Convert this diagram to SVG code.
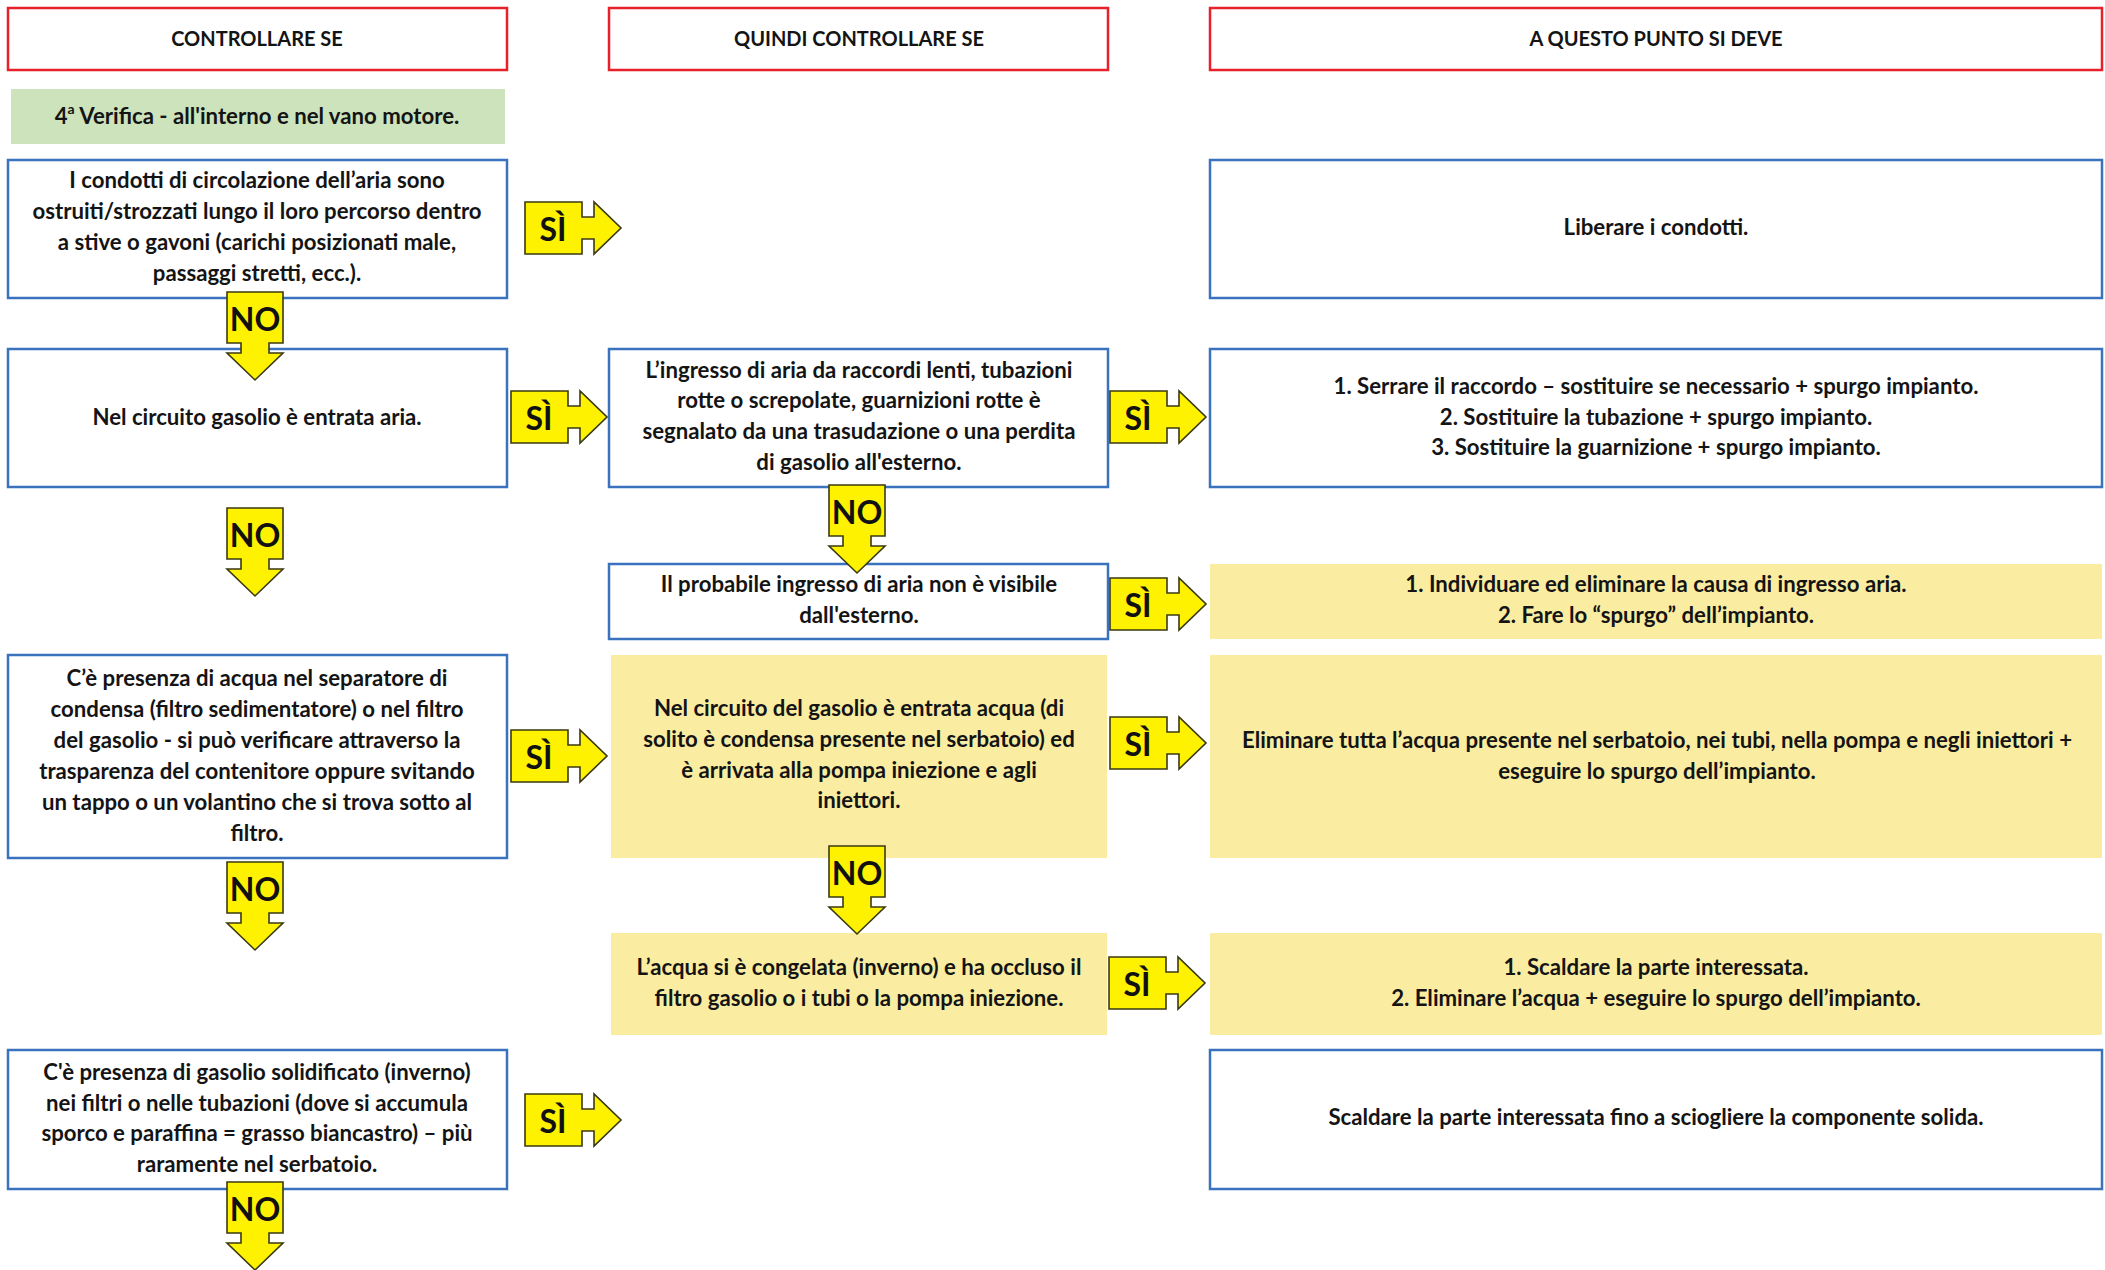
<svg xmlns="http://www.w3.org/2000/svg" width="2105" height="1270" viewBox="0 0 2105 1270">
<defs>
<style>
.hdr{fill:#ffffff;stroke:#E8202A;stroke-width:2.5}
.blue{fill:#ffffff;stroke:#3A72BE;stroke-width:2.5}
.yel{fill:#FAEDA2;stroke:none}
.grn{fill:#CCE3BC;stroke:none}
text{font-family:Lato,"Liberation Sans",sans-serif;font-weight:700;fill:#141414;text-anchor:middle}
.t{font-size:22.2px}
.h{font-size:20px}
.lab{font-size:32px;fill:#111}
.arr{fill:#FFF200;stroke:#3a3a10;stroke-width:1.6;stroke-linejoin:miter}
</style>
<path id="si" d="M0,0 H57 V15 H69 V0 L96,26 L69,52 V37 H57 V52 H0 Z"/>
<path id="no" d="M0,0 H56 V51 H42 V61 H56 L28,88 L0,61 H14 V51 H0 Z"/>
</defs>
<rect width="2105" height="1270" fill="#ffffff"/>

<g id="header1"><rect class="hdr" x="8" y="8" width="499" height="62"/><text class="h" x="257" y="46">CONTROLLARE SE</text></g>
<g id="header2"><rect class="hdr" x="609" y="8" width="499" height="62"/><text class="h" x="859" y="46">QUINDI CONTROLLARE SE</text></g>
<g id="header3"><rect class="hdr" x="1210" y="8" width="892" height="62"/><text class="h" x="1656" y="46">A QUESTO PUNTO SI DEVE</text></g>

<g id="step4"><rect class="grn" x="11" y="89" width="494" height="55"/><text class="t" x="257" y="124">4<tspan font-size="14" dy="-10">a</tspan><tspan dy="10"> Verifica - all'interno e nel vano motore.</tspan></text></g>

<g id="A1"><rect class="blue" x="8" y="160" width="499" height="138"/>
<text class="t" x="257"><tspan x="257" y="188">I condotti di circolazione dell’aria sono</tspan><tspan x="257" y="219">ostruiti/strozzati lungo il loro percorso dentro</tspan><tspan x="257" y="250">a stive o gavoni (carichi posizionati male,</tspan><tspan x="257" y="281">passaggi stretti, ecc.).</tspan></text></g>

<g id="C1"><rect class="blue" x="1210" y="160" width="892" height="138"/><text class="t" x="1656" y="235">Liberare i condotti.</text></g>

<g id="A2"><rect class="blue" x="8" y="349" width="499" height="138"/><text class="t" x="257" y="425">Nel circuito gasolio è entrata aria.</text></g>

<g id="B1"><rect class="blue" x="609" y="349" width="499" height="138"/>
<text class="t"><tspan x="859" y="378">L’ingresso di aria da raccordi lenti, tubazioni</tspan><tspan x="859" y="408">rotte o screpolate, guarnizioni rotte è</tspan><tspan x="859" y="439">segnalato da una trasudazione o una perdita</tspan><tspan x="859" y="470">di gasolio all'esterno.</tspan></text></g>

<g id="C2"><rect class="blue" x="1210" y="349" width="892" height="138"/>
<text class="t"><tspan x="1656" y="394">1. Serrare il raccordo – sostituire se necessario + spurgo impianto.</tspan><tspan x="1656" y="425">2. Sostituire la tubazione + spurgo impianto.</tspan><tspan x="1656" y="455">3. Sostituire la guarnizione + spurgo impianto.</tspan></text></g>

<g id="B2"><rect class="blue" x="609" y="564" width="499" height="75"/>
<text class="t"><tspan x="859" y="592">Il probabile ingresso di aria non è visibile</tspan><tspan x="859" y="623">dall'esterno.</tspan></text></g>

<g id="C3"><rect class="yel" x="1210" y="564" width="892" height="75"/>
<text class="t"><tspan x="1656" y="592">1. Individuare ed eliminare la causa di ingresso aria.</tspan><tspan x="1656" y="623">2. Fare lo “spurgo” dell’impianto.</tspan></text></g>

<g id="A3"><rect class="blue" x="8" y="655" width="499" height="203"/>
<text class="t"><tspan x="257" y="686">C’è presenza di acqua nel separatore di</tspan><tspan x="257" y="717">condensa (filtro sedimentatore) o nel filtro</tspan><tspan x="257" y="748">del gasolio - si può verificare attraverso la</tspan><tspan x="257" y="779">trasparenza del contenitore oppure svitando</tspan><tspan x="257" y="810">un tappo o un volantino che si trova sotto al</tspan><tspan x="257" y="841">filtro.</tspan></text></g>

<g id="B3"><rect class="yel" x="611" y="655" width="496" height="203"/>
<text class="t"><tspan x="859" y="716">Nel circuito del gasolio è entrata acqua (di</tspan><tspan x="859" y="747">solito è condensa presente nel serbatoio) ed</tspan><tspan x="859" y="778">è arrivata alla pompa iniezione e agli</tspan><tspan x="859" y="808">iniettori.</tspan></text></g>

<g id="C4"><rect class="yel" x="1210" y="655" width="892" height="203"/>
<text class="t"><tspan x="1657" y="748">Eliminare tutta l’acqua presente nel serbatoio, nei tubi, nella pompa e negli iniettori +</tspan><tspan x="1657" y="779">eseguire lo spurgo dell’impianto.</tspan></text></g>

<g id="B4"><rect class="yel" x="611" y="933" width="496" height="102"/>
<text class="t"><tspan x="859" y="975">L’acqua si è congelata (inverno) e ha occluso il</tspan><tspan x="859" y="1006">filtro gasolio o i tubi o la pompa iniezione.</tspan></text></g>

<g id="C5"><rect class="yel" x="1210" y="933" width="892" height="102"/>
<text class="t"><tspan x="1656" y="975">1. Scaldare la parte interessata.</tspan><tspan x="1656" y="1006">2. Eliminare l’acqua + eseguire lo spurgo dell’impianto.</tspan></text></g>

<g id="A4"><rect class="blue" x="8" y="1050" width="499" height="139"/>
<text class="t"><tspan x="257" y="1080">C'è presenza di gasolio solidificato (inverno)</tspan><tspan x="257" y="1111">nei filtri o nelle tubazioni (dove si accumula</tspan><tspan x="257" y="1141">sporco e paraffina = grasso biancastro) – più</tspan><tspan x="257" y="1172">raramente nel serbatoio.</tspan></text></g>

<g id="C6"><rect class="blue" x="1210" y="1050" width="892" height="139"/><text class="t" x="1656" y="1125">Scaldare la parte interessata fino a sciogliere la componente solida.</text></g>

<g id="connectors">
<g transform="translate(525,202)"><use href="#si" class="arr"/><text class="lab" x="28" y="39">SÌ</text></g>
<g transform="translate(511,391)"><use href="#si" class="arr"/><text class="lab" x="28" y="39">SÌ</text></g>
<g transform="translate(1110,391)"><use href="#si" class="arr"/><text class="lab" x="28" y="39">SÌ</text></g>
<g transform="translate(1110,578)"><use href="#si" class="arr"/><text class="lab" x="28" y="39">SÌ</text></g>
<g transform="translate(511,730)"><use href="#si" class="arr"/><text class="lab" x="28" y="39">SÌ</text></g>
<g transform="translate(1110,717)"><use href="#si" class="arr"/><text class="lab" x="28" y="39">SÌ</text></g>
<g transform="translate(1109,957)"><use href="#si" class="arr"/><text class="lab" x="28" y="39">SÌ</text></g>
<g transform="translate(525,1094)"><use href="#si" class="arr"/><text class="lab" x="28" y="39">SÌ</text></g>
<g transform="translate(227,292)"><use href="#no" class="arr"/><text class="lab" x="28" y="39">NO</text></g>
<g transform="translate(227,508)"><use href="#no" class="arr"/><text class="lab" x="28" y="39">NO</text></g>
<g transform="translate(227,862)"><use href="#no" class="arr"/><text class="lab" x="28" y="39">NO</text></g>
<g transform="translate(227,1182)"><use href="#no" class="arr"/><text class="lab" x="28" y="39">NO</text></g>
<g transform="translate(829,485)"><use href="#no" class="arr"/><text class="lab" x="28" y="39">NO</text></g>
<g transform="translate(829,846)"><use href="#no" class="arr"/><text class="lab" x="28" y="39">NO</text></g>
</g>
</svg>
